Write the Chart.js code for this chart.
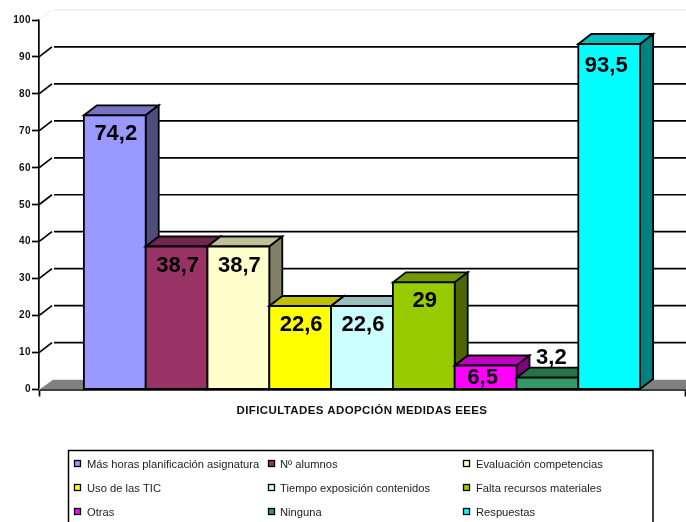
<!DOCTYPE html>
<html>
<head>
<meta charset="utf-8">
<style>html,body{margin:0;padding:0;background:#fff;overflow:hidden}canvas{display:block}</style>
<script src="https://cdn.jsdelivr.net/npm/chart.js@4"></script>
</head>
<body>
<canvas id="c" width="686" height="522"></canvas>
<script>
const categories = ["DIFICULTADES ADOPCIÓN MEDIDAS EEES"];
const seriesNames = ["Más horas planificación asignatura","Nº alumnos","Evaluación competencias","Uso de las TIC","Tiempo exposición contenidos","Falta recursos materiales","Otras","Ninguna","Respuestas"];
const seriesValues = [74.2,38.7,38.7,22.6,22.6,29,6.5,3.2,93.5];
const frontColors = ["#9999FF","#993366","#FFFFCC","#FFFF00","#CCFFFF","#99CC00","#FF00FF","#339966","#00FFFF"];
const topColors = ["#7373BF","#73264D","#BFBF99","#BFBF00","#99BFBF","#739900","#BF00BF","#267349","#00BFBF"];
const sideColors = ["#4D4D80","#4D1933","#808066","#808000","#668080","#4D6600","#800080","#194D33","#008080"];
const yTicks = [0,10,20,30,40,50,60,70,80,90,100];

const FONT = '"Liberation Sans", Arial, sans-serif';
const DX = 13, DY = 10;

const wall = {
  id: 'wall',
  beforeDraw(chart) {
    chart.ctx.letterSpacing = '0.38px';
  },
  beforeDatasetsDraw(chart) {
    const c = chart.ctx, y = chart.scales.y, a = chart.chartArea;
    c.letterSpacing = '0px';
    const x0 = a.left, backX = x0 + DX, rightX = 686;
    c.save();
    const y0 = y.getPixelForValue(0);
    c.fillStyle = '#808080';
    c.beginPath();
    c.moveTo(x0, y0); c.lineTo(backX + 1, y0 - DY); c.lineTo(rightX, y0 - DY); c.lineTo(rightX, y0);
    c.closePath(); c.fill();
    c.strokeStyle = '#e4e4e4'; c.lineWidth = 1;
    c.beginPath(); c.moveTo(x0, y0); c.lineTo(backX + 1, y0 - DY); c.lineTo(rightX, y0 - DY); c.stroke();
    yTicks.forEach(t => {
      if (t === 0) return;
      const p = y.getPixelForValue(t);
      const light = t === 100;
      c.strokeStyle = light ? '#e8e8e8' : '#000';
      c.lineWidth = light ? 1 : 1.7;
      c.beginPath(); c.moveTo(x0, p); c.lineTo(backX, p - DY); c.stroke();
      c.beginPath(); c.moveTo(backX + 2, p - DY); c.lineTo(rightX, p - DY); c.stroke();
    });
    c.restore();
  },
  afterDatasetsDraw(chart) {
    const c = chart.ctx;
    c.save();
    c.lineJoin = 'miter';
    c.strokeStyle = '#000';
    c.lineWidth = 1.8;
    seriesValues.forEach((v, i) => {
      const el = chart.getDatasetMeta(i).data[0];
      const l = el.x - el.width / 2, r = el.x + el.width / 2, t = el.y, b = el.base;
      c.fillStyle = topColors[i];
      c.beginPath(); c.moveTo(l, t); c.lineTo(l + DX, t - DY); c.lineTo(r + DX, t - DY); c.lineTo(r, t); c.closePath(); c.fill(); c.stroke();
      c.fillStyle = sideColors[i];
      c.beginPath(); c.moveTo(r, t); c.lineTo(r + DX, t - DY); c.lineTo(r + DX, b - DY); c.lineTo(r, b); c.closePath(); c.fill(); c.stroke();
      c.fillStyle = frontColors[i];
      c.beginPath(); c.rect(l, t, r - l, b - t); c.fill(); c.stroke();
    });
    c.fillStyle = '#000';
    c.font = 'bold 22px ' + FONT;
    c.textAlign = 'center';
    c.textBaseline = 'middle';
    seriesValues.forEach((v, i) => {
      const el = chart.getDatasetMeta(i).data[0];
      const off = v < 5 ? -20 : (v < 10 ? 12 : (v > 90 ? 22 : 19));
      const dx = v < 5 ? 4 : (v > 90 ? -3 : (v < 10 ? -3 : 1));
      c.fillText(String(v).replace('.', ','), el.x + dx, el.y + off);
    });
    c.restore();
  },
  afterDraw(chart) {
    const c = chart.ctx;
    c.save();
    c.strokeStyle = '#000'; c.lineWidth = 1.5;
    c.strokeRect(68.5, 450.5, 584.5, 80);
    const markerX = [74.5, 268.5, 463.5], textX = [87, 280, 476], rowY = [464, 488, 512];
    c.font = '11.2px ' + FONT;
    c.textBaseline = 'middle';
    c.textAlign = 'left';
    seriesNames.forEach((n, i) => {
      const col = i % 3, row = Math.floor(i / 3);
      c.fillStyle = frontColors[i];
      c.fillRect(markerX[col], rowY[row] - 3.5, 6, 6);
      c.strokeStyle = '#000'; c.lineWidth = 1.3;
      c.strokeRect(markerX[col], rowY[row] - 3.5, 6, 6);
      c.fillStyle = '#222';
      c.fillText(n, textX[col], rowY[row] + 1);
    });
    c.restore();
  }
};

new Chart(document.getElementById('c'), {
  type: 'bar',
  data: {
    labels: categories,
    datasets: seriesNames.map((n, i) => ({
      label: n,
      data: [seriesValues[i]],
      backgroundColor: frontColors[i],
      borderWidth: 0,
      categoryPercentage: 0.861,
      barPercentage: 1
    }))
  },
  options: {
    responsive: false,
    animation: false,
    layout: { padding: { top: 20, right: 1, left: 0, bottom: 0 } },
    plugins: { legend: { display: false }, tooltip: { enabled: false }, title: { display: false } },
    scales: {
      x: {
        offset: true,
        ticks: { display: false },
        grid: { color: 'transparent', tickColor: '#000', tickLength: 7, tickWidth: 1.7, drawOnChartArea: false, offset: true },
        border: { color: '#000', width: 1.7 },
        title: {
          display: true,
          text: categories[0],
          color: '#111',
          font: { family: FONT, size: 11.5, weight: 'bold' },
          padding: { top: 0, bottom: 104 },
          align: 'center'
        },
        afterFit(s) { s.height = 132.5; }
      },
      y: {
        min: 0, max: 100,
        ticks: { stepSize: 10, color: '#111', padding: 1, font: { family: FONT, size: 10, weight: 'bold' } },
        grid: { drawOnChartArea: false, tickColor: '#000', tickLength: 7, tickWidth: 1.7 },
        border: { color: '#000', width: 1.7 },
        afterFit(s) { s.width = 39; }
      }
    }
  },
  plugins: [wall]
});
</script>
</body>
</html>
